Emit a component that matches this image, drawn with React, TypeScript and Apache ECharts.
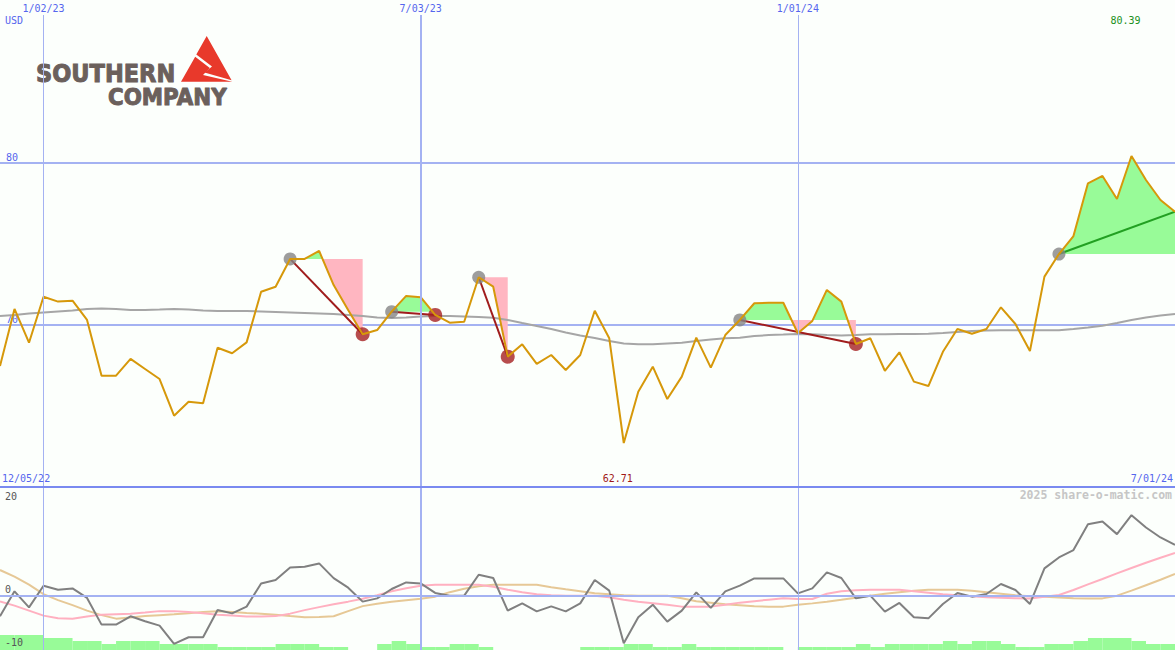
import React, { useEffect, useRef } from "react";
import * as echarts from "echarts";

// ---------- data ----------
function weeklyDates(y: number, m: number, d: number, n: number): string[] {
  const out: string[] = [];
  const t0 = Date.UTC(y, m - 1, d);
  for (let i = 0; i < n; i++) {
    const dt = new Date(t0 + i * 7 * 86400000);
    const mm = dt.getUTCMonth() + 1;
    const dd = String(dt.getUTCDate()).padStart(2, "0");
    const yy = String(dt.getUTCFullYear() % 100).padStart(2, "0");
    out.push(`${mm}/${dd}/${yy}`);
  }
  return out;
}
const DATES = weeklyDates(2022, 12, 12, 82);
const TOP_TICKS = ["1/02/23", "7/03/23", "1/01/24"];
const RANGE_START = "12/05/22";
const RANGE_END = "7/01/24";
const CURRENCY = "USD";
const CREDIT = "2025 share-o-matic.com";
const MAIN_Y_LABELS = [70, 80];
const SUB_Y_LABELS = [20, 0, -10];

const PRICE = [
  67.45, 70.97, 68.89, 71.72, 71.42, 71.48, 70.29, 66.86, 66.86, 67.89,
  67.27, 66.65, 64.39, 65.25, 65.16, 68.58, 68.24, 68.91, 72.03, 72.34,
  74.05, 74.05, 74.54, 72.44, 70.9, 69.41, 69.67, 70.8, 71.77, 71.69,
  70.6, 70.12, 70.18, 72.92, 72.34, 68.03, 68.79, 67.58, 68.13, 67.21,
  68.13, 70.86, 69.16, 62.71, 65.87, 67.41, 65.42, 66.8, 69.2, 67.35,
  69.36, 70.29, 71.32, 71.35, 71.35, 69.47, 70.23, 72.14, 71.42, 68.81,
  69.16, 67.16, 68.3, 66.49, 66.22, 68.33, 69.73, 69.44, 69.73, 71.07,
  70.04, 68.38, 72.96, 74.35, 75.46, 78.71, 79.16, 77.74, 80.39, 78.91,
  77.68, 76.96,
];
const MOVING_AVG = [
  70.53, 70.6, 70.69, 70.75, 70.81, 70.87, 70.97, 71.0, 70.97, 70.9,
  70.9, 70.93, 70.97, 70.93, 70.87, 70.84, 70.84, 70.84, 70.81, 70.78,
  70.75, 70.72, 70.69, 70.66, 70.6, 70.53, 70.44, 70.41, 70.44, 70.5,
  70.53, 70.53, 70.5, 70.47, 70.43, 70.29, 70.1, 69.92, 69.73, 69.52,
  69.33, 69.18, 68.99, 68.84, 68.79, 68.79, 68.84, 68.89, 68.99, 69.09,
  69.16, 69.2, 69.3, 69.36, 69.39, 69.43, 69.41, 69.36, 69.33, 69.36,
  69.41, 69.41, 69.43, 69.43, 69.44, 69.49, 69.55, 69.61, 69.64, 69.65,
  69.65, 69.65, 69.65, 69.65, 69.73, 69.83, 69.94, 70.1, 70.29, 70.44,
  70.56, 70.66,
];
const MOMENTUM = [
  -4.18, 0.87, -2.36, 2.02, 1.21, 1.47, -0.46, -5.86, -5.86, -4.18,
  -5.19, -6.06, -9.76, -8.42, -8.42, -2.89, -3.58, -2.22, 2.48, 3.17,
  5.72, 5.86, 6.53, 3.56, 1.62, -1.21, -0.55, 1.35, 2.69, 2.48,
  0.55, 0.0, 0.0, 4.24, 3.58, -3.03, -1.56, -3.17, -2.16, -3.17,
  -1.56, 3.17, 1.01, -9.64, -4.38, -1.82, -5.25, -3.03, 0.67, -2.48,
  0.87, 2.02, 3.49, 3.49, 3.49, 0.46, 1.47, 4.71, 3.58, -0.55,
  0.0, -3.23, -1.47, -4.38, -4.59, -1.68, 0.55, -0.2, 0.34, 2.36,
  1.15, -1.68, 5.52, 7.74, 9.23, 14.48, 15.01, 12.46, 16.3, 13.8,
  11.78, 10.3,
];
const MOMENTUM_FAST = [
  -1.15, -2.02, -3.03, -4.04, -4.55, -4.65, -4.24, -3.84, -3.74, -3.64,
  -3.43, -3.13, -3.13, -3.33, -3.54, -3.84, -4.04, -4.24, -4.24, -4.14,
  -3.64, -2.93, -2.32, -1.72, -1.21, -0.61, 0.1, 0.91, 1.52, 2.02,
  2.22, 2.22, 2.22, 2.22, 1.82, 1.21, 0.71, 0.3, 0.1, 0.0,
  0.0, 0.0, -0.3, -0.81, -1.21, -1.52, -1.82, -2.22, -2.22, -2.22,
  -1.82, -1.41, -1.11, -0.81, -0.51, -0.67, -0.67, 0.4, 0.91, 1.11,
  1.21, 1.21, 1.21, 0.91, 0.61, 0.3, 0.1, -0.1, -0.3, -0.4,
  -0.51, -0.55, -0.2, 0.14, 1.15, 2.28, 3.37, 4.51, 5.6, 6.67,
  7.68, 8.63,
];
const MOMENTUM_SLOW = [
  5.19, 3.84, 2.22, 0.3, -0.91, -1.92, -3.03, -3.94, -4.65, -4.44,
  -4.14, -3.94, -3.78, -3.54, -3.33, -3.17, -3.33, -3.49, -3.64, -3.84,
  -4.14, -4.38, -4.34, -4.18, -3.13, -2.12, -1.62, -1.21, -0.91, -0.61,
  -0.2, 0.71, 1.41, 1.92, 2.22, 2.22, 2.22, 2.22, 1.72, 1.31,
  0.91, 0.51, 0.3, 0.1, 0.0, 0.0, 0.0, -0.51, -1.11, -1.41,
  -1.72, -1.92, -2.12, -2.22, -2.22, -1.82, -1.56, -1.21, -0.81, -0.4,
  0.0, 0.4, 0.71, 1.01, 1.21, 1.21, 1.21, 1.01, 0.71, 0.4,
  0.1, -0.14, -0.24, -0.36, -0.51, -0.55, -0.55, 0.0, 1.01, 2.12,
  3.23, 4.38,
];
const VOLUME = [
  5, 5, 5, 4, 4, 3, 3, 2, 3, 3, 3, 2, 2, 2, 2, 1, 1, 1, 1, 2,
  2, 2, 1, 1, 0, 0, 2, 3, 2, 1, 1, 2, 2, 1, 0, 0, 0, 0, 0, 0,
  1, 1, 1, 2, 2, 1, 1, 2, 1, 1, 1, 1, 1, 1, 0, 1, 1, 1, 1, 2,
  1, 2, 2, 2, 2, 3, 2, 3, 3, 2, 1, 1, 2, 2, 3, 4, 4, 4, 3, 2,
  2,
];
const SIGNAL_ENTRY = [20, 27, 33, 51, 73];
const SIGNAL_EXIT = [25, 30, 35, 59, 81];
const SIGNAL_OPEN = [false, false, false, false, true];

// ---------- styles ----------
const BG = "#fcfffc";
const BLUE_TEXT = "#5566ee";
const GRID_BLUE = "#a4b2f2";
const DIVIDER_BLUE = "#7a8af0";
const MONO = "'DejaVu Sans Mono', monospace";
const PRICE_COLOR = "#d6980a";
const MA_COLOR = "#a6a6a6";
const GREEN_FILL = "#98fb98";
const PINK_FILL = "#ffb6c1";
const EXIT_RED = "#a52020";
const LINK_RED = "#a01c1c";
const LINK_GREEN = "#22a022";
const LOGO_GREY = "#6b605c";
const LOGO_RED = "#e8392b";

export default function App() {
  const ref = useRef<HTMLDivElement>(null);
  useEffect(() => {
    document.body.style.margin = "0";
    const chart = echarts.init(ref.current!, undefined, { renderer: "svg" });
    const signalData = SIGNAL_ENTRY.map((e, k) => [e, PRICE[e], SIGNAL_EXIT[k], PRICE[SIGNAL_EXIT[k]]]);

    const fillRender = (params: any, api: any) => {
      const k = params.dataIndex;
      const e = SIGNAL_ENTRY[k];
      const x = SIGNAL_EXIT[k];
      const base = PRICE[e];
      const by = api.coord([e, base])[1];
      const pts: number[][] = [];
      for (let i = e; i <= x; i++) {
        const p = api.coord([i, PRICE[i]]);
        if (pts.length) {
          const q = pts[pts.length - 1];
          if ((q[1] - by) * (p[1] - by) < 0) {
            const t = (by - q[1]) / (p[1] - q[1]);
            pts.push([q[0] + t * (p[0] - q[0]), by]);
          }
        }
        pts.push(p);
      }
      const x0 = pts[0][0];
      const x1 = pts[pts.length - 1][0];
      const up = [[x0, by], ...pts.map((p) => [p[0], Math.min(p[1], by)]), [x1, by]];
      const dn = [[x0, by], ...pts.map((p) => [p[0], Math.max(p[1], by)]), [x1, by]];
      return {
        type: "group",
        children: [
          { type: "polygon", shape: { points: up }, style: { fill: GREEN_FILL } },
          { type: "polygon", shape: { points: dn }, style: { fill: PINK_FILL } },
        ],
      };
    };
    const linkRender = (params: any, api: any) => {
      const a = api.coord([api.value(0), api.value(1)]);
      const b = api.coord([api.value(2), api.value(3)]);
      return {
        type: "line",
        shape: { x1: a[0], y1: a[1], x2: b[0], y2: b[1] },
        style: { stroke: SIGNAL_OPEN[params.dataIndex] ? LINK_GREEN : LINK_RED, lineWidth: 2 },
      };
    };

    const option: any = {
      animation: false,
      backgroundColor: BG,
      grid: [
        { left: 0, right: 0, top: 0, height: 487 },
        { left: 0, right: 0, top: 487, height: 163 },
        { left: 0, right: 0, top: 15, height: 635 },
      ],
      xAxis: [
        {
          gridIndex: 0, type: "category", data: DATES, boundaryGap: false, position: "top",
          axisLine: { show: false }, axisTick: { show: false }, splitLine: { show: false },
          axisLabel: {
            inside: true, margin: 3, color: BLUE_TEXT, fontFamily: MONO, fontSize: 10,
            interval: (_i: number, v: string) => TOP_TICKS.includes(v),
          },
        },
        {
          gridIndex: 1, type: "category", data: DATES, boundaryGap: false, position: "top", z: 6,
          axisLine: { show: true, onZero: false, lineStyle: { color: DIVIDER_BLUE, width: 2 } },
          axisTick: { show: false }, axisLabel: { show: false }, splitLine: { show: false },
        },
        {
          gridIndex: 1, type: "category", data: DATES.slice(0, VOLUME.length), boundaryGap: true,
          show: false,
        },
        { gridIndex: 2, type: "category", data: DATES, boundaryGap: false, show: false },
      ],
      yAxis: [
        {
          gridIndex: 0, type: "value", min: 60, max: 90, interval: 10,
          axisLine: { show: false }, axisTick: { show: false },
          axisLabel: {
            inside: true, margin: 6, verticalAlign: "bottom", color: BLUE_TEXT,
            fontFamily: MONO, fontSize: 10,
            formatter: (v: number) => (MAIN_Y_LABELS.includes(v) ? String(v) : ""),
          },
          splitLine: { show: true, showMinLine: false, showMaxLine: false, lineStyle: { color: GRID_BLUE, width: 2 } },
        },
        {
          gridIndex: 1, type: "value", min: -11, max: 22, z: 10,
          axisLine: { show: false }, axisTick: { show: false }, splitLine: { show: false },
          axisLabel: {
            inside: true, margin: 5, color: "#555555", fontFamily: MONO, fontSize: 10,
            hideOverlap: false, showMinLabel: false, showMaxLabel: false,
            formatter: (v: number) =>
              SUB_Y_LABELS.includes(v) ? (v === 0 ? "{b|0}" : v === -10 ? "{c|-10}" : "{a|" + v + "}") : "",
            rich: {
              a: { fontFamily: MONO, fontSize: 10, color: "#555555" },
              b: { fontFamily: MONO, fontSize: 10, color: "#555555", padding: [0, 0, 13, 0] },
              c: { fontFamily: MONO, fontSize: 10, color: "#555555", padding: [0, 0, 6, 0] },
            },
          },
        },
        { gridIndex: 1, type: "value", min: 0, max: 54.33, show: false },
        { gridIndex: 2, type: "value", min: 0, max: 1, show: false },
      ],
      series: [
        {
          type: "line", xAxisIndex: 3, yAxisIndex: 3, data: [], silent: true, z: 1.2,
          markLine: {
            silent: true, symbol: "none", label: { show: false },
            data: TOP_TICKS.map((t, i) => ({
              xAxis: t,
              lineStyle: { color: GRID_BLUE, width: i === 1 ? 2 : 1, type: "solid" },
            })),
          },
        },
        {
          type: "custom", xAxisIndex: 0, yAxisIndex: 0, z: 1, silent: true,
          data: signalData, encode: { x: [0, 2], y: [1, 3] }, renderItem: fillRender,
        },
        {
          type: "line", xAxisIndex: 0, yAxisIndex: 0, data: MOVING_AVG, z: 2,
          symbol: "none", lineStyle: { color: MA_COLOR, width: 2 },
        },
        {
          type: "custom", xAxisIndex: 0, yAxisIndex: 0, z: 3, silent: true,
          data: signalData, encode: { x: [0, 2], y: [1, 3] }, renderItem: linkRender,
        },
        {
          type: "scatter", xAxisIndex: 0, yAxisIndex: 0, z: 3, symbolSize: 13,
          itemStyle: { color: "#858585" },
          data: SIGNAL_ENTRY.map((e) => [e, PRICE[e]]),
        },
        {
          type: "scatter", xAxisIndex: 0, yAxisIndex: 0, z: 3, symbolSize: 14,
          itemStyle: { color: EXIT_RED },
          data: SIGNAL_EXIT.filter((_, k) => !SIGNAL_OPEN[k]).map((x) => [x, PRICE[x]]),
        },
        {
          type: "line", xAxisIndex: 0, yAxisIndex: 0, data: PRICE, z: 4,
          symbol: "none", lineStyle: { color: PRICE_COLOR, width: 2 },
        },
        {
          type: "bar", xAxisIndex: 2, yAxisIndex: 2, data: VOLUME, z: 1,
          barCategoryGap: "0%", barGap: "0%", itemStyle: { color: GREEN_FILL },
        },
        {
          type: "line", xAxisIndex: 1, yAxisIndex: 1, data: [], z: 1.5, silent: true,
          markLine: {
            silent: true, symbol: "none", label: { show: false },
            data: [{ yAxis: 0 }],
            lineStyle: { color: GRID_BLUE, width: 2, type: "solid" },
          },
        },
        {
          type: "line", xAxisIndex: 1, yAxisIndex: 1, data: MOMENTUM_SLOW, z: 2,
          symbol: "none", lineStyle: { color: "#e6c896", width: 2 },
        },
        {
          type: "line", xAxisIndex: 1, yAxisIndex: 1, data: MOMENTUM_FAST, z: 2,
          symbol: "none", lineStyle: { color: "#ffb0c0", width: 2 },
        },
        {
          type: "line", xAxisIndex: 1, yAxisIndex: 1, data: MOMENTUM, z: 3,
          symbol: "none", lineStyle: { color: "#808080", width: 2 },
        },
      ],
    };
    chart.setOption(option);

    const maxIdx = PRICE.indexOf(Math.max(...PRICE));
    const minIdx = PRICE.indexOf(Math.min(...PRICE));
    const pxMax = chart.convertToPixel({ xAxisIndex: 0 }, DATES[maxIdx]) as number;
    const pxMin = chart.convertToPixel({ xAxisIndex: 0 }, DATES[minIdx]) as number;
    const txt = (text: string, x: number, y: number, fill: string, align = "left", extra: any = {}) => ({
      type: "text", z: 50,
      style: { text, x, y, fill, align, verticalAlign: "top", font: `10px ${MONO}`, ...extra },
    });

    chart.setOption({
      graphic: [
        txt(CURRENCY, 5, 15, BLUE_TEXT),
        txt(RANGE_START, 2, 473, BLUE_TEXT),
        txt(RANGE_END, 1173, 473, BLUE_TEXT, "right"),
        txt(CREDIT, 1172, 489, "#c6c6c6", "right", { font: `bold 11.5px ${MONO}` }),
        txt(PRICE[maxIdx].toFixed(2), pxMax - 6, 15, "#209020", "center"),
        txt(PRICE[minIdx].toFixed(2), pxMin - 6, 473, "#a01818", "center"),
        {
          type: "group", z: 100,
          children: [
            { type: "rect", shape: { x: 30, y: 34, width: 212, height: 73 }, style: { fill: BG } },
            {
              type: "text", x: 36, y: 74, scaleX: 0.9,
              style: { text: "SOUTHERN", x: 0, y: 0, verticalAlign: "middle", fill: LOGO_GREY,
                stroke: LOGO_GREY, lineWidth: 1, lineHeight: 20, font: "bold 25px 'DejaVu Sans'" },
            },
            {
              type: "text", x: 108, y: 96.5, scaleX: 0.93,
              style: { text: "COMPANY", x: 0, y: 0, verticalAlign: "middle", fill: LOGO_GREY,
                stroke: LOGO_GREY, lineWidth: 1, lineHeight: 18, font: "bold 23px 'DejaVu Sans'" },
            },
            {
              type: "polygon",
              shape: { points: [[206.7, 36], [231.6, 80.3], [204.5, 72.5], [212, 66.5], [196.3, 54.5]] },
              style: { fill: LOGO_RED },
            },
            {
              type: "polygon",
              shape: { points: [[195.2, 56.8], [181, 81.7], [232.3, 81.7], [203, 75], [209.8, 68]] },
              style: { fill: LOGO_RED },
            },
          ],
        },
      ],
    });

    return () => chart.dispose();
  }, []);
  return <div ref={ref} style={{ width: 1175, height: 650 }} />;
}
